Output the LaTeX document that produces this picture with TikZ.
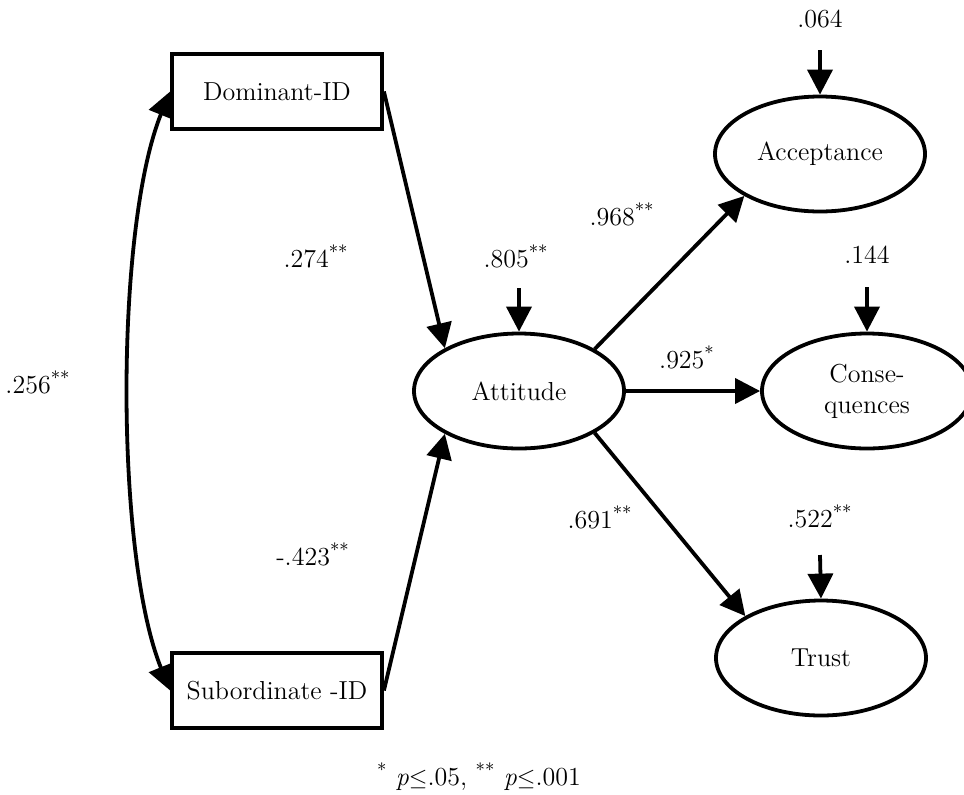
\documentclass[tikz,border=0pt]{standalone}
\usetikzlibrary{arrows.meta,shapes.geometric}
\begin{document}
\begin{tikzpicture}[x=0.5pt,y=0.5pt,
  lw/.style={line width=1.9pt},
  txt/.style={font=\fontsize{13}{15.5}\selectfont},
  obs/.style={draw,lw,rectangle,minimum width=105pt,minimum height=37.5pt,inner sep=0pt,txt},
  lat/.style={draw,lw,ellipse,minimum width=105pt,minimum height=57.5pt,inner sep=0pt,txt,align=center},
  arr/.style={lw,-{Triangle[length=12.5pt,width=12.5pt]}},
  arrboth/.style={lw,{Triangle[length=12.5pt,width=12.5pt]}-{Triangle[length=12.5pt,width=12.5pt]}},
  lab/.style={anchor=base,inner sep=0pt,txt}]
\useasboundingbox (0,0) rectangle (964,-794);

% nodes
\node[obs] (dom) at (277,-91.5) {Dominant-ID};
\node[obs] (sub) at (277,-690.5) {Subordinate -ID};
\node[lat] (att) at (519,-391) {Attitude};
\node[lat] (acc) at (820,-154) {Acceptance};
\node[lat] (cons) at (867,-391) {Conse-\\quences};
\node[lat] (trust) at (821,-658) {Trust};

% residual starts
\coordinate (r0) at (519,-288);
\coordinate (r1) at (820,-50);
\coordinate (r2) at (867,-287);
\coordinate (r3) at (820,-555);

% paths
\draw[arr] (dom.east) -- (att.150);
\draw[arr] (sub.east) -- (att.210);
\draw[arrboth] (dom.west) to[out=248,in=112,looseness=0.63] (sub.west);
\draw[arr] (att.29) -- (acc.209);
\draw[arr] (att.east) -- (cons.west);
\draw[arr] (att.-29) -- (trust.151);
\draw[arr] (r0) -- (att.north);
\draw[arr] (r1) -- (acc.north);
\draw[arr] (r2) -- (cons.north);
\draw[arr] (r3) -- (trust.north);

% labels
\node[lab] (l1) at (316,-267) {.274\textsuperscript{**}};
\node[lab] (l2) at (313,-565) {-.423\textsuperscript{**}};
\node[lab] (l3) at (38,-393) {.256\textsuperscript{**}};
\node[lab] (l4) at (516,-267) {.805\textsuperscript{**}};
\node[lab] (l5) at (622,-225) {.968\textsuperscript{**}};
\node[lab] (l6) at (687,-368) {.925\textsuperscript{*}};
\node[lab] (l7) at (600,-528) {.691\textsuperscript{**}};
\node[lab] (l8) at (820,-527) {.522\textsuperscript{**}};
\node[lab] (l9) at (820,-27) {.064};
\node[lab] (l10) at (867,-263) {.144};
\node[lab] (fn) at (479,-785) {\textsuperscript{*} \textit{p}$\leq$.05, \textsuperscript{**} \textit{p}$\leq$.001};
\end{tikzpicture}
\end{document}
